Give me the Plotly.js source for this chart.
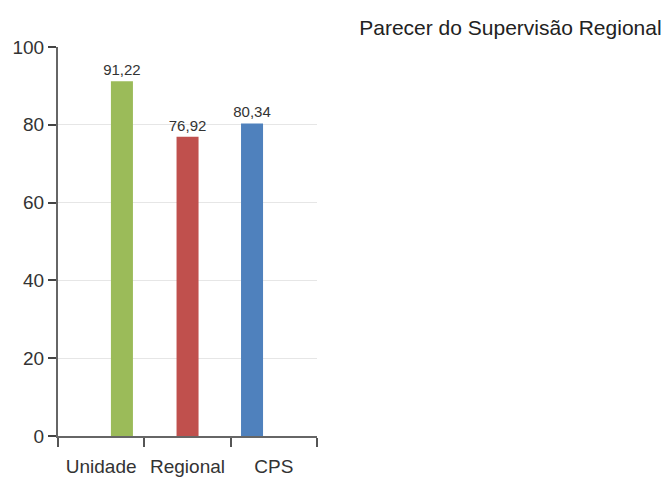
<!DOCTYPE html>
<html><head><meta charset="utf-8">
<script src="https://cdn.plot.ly/plotly-3.0.1.min.js"></script>
<style>html,body{margin:0;padding:0;background:#fff}#chart{width:669px;height:481px}</style>
</head><body><div id="chart"></div>
<script>
var categories = ["Unidade", "Regional", "CPS"];
var seriesNames = ["Unidade", "Regional", "CPS"];
var seriesValues = [91.22, 76.92, 80.34];
var seriesLabels = ["91,22", "76,92", "80,34"];
var seriesColors = ["#9BBB59", "#C0504D", "#4F81BD"];
var yTicks = [0, 20, 40, 60, 80, 100];

// bar placement styling (in category units) to match the picture
var barOffsets = [0.113, -0.127, -0.38];
var barWidth = 0.255;

var FONT = "'Liberation Sans', Arial, sans-serif";

var traces = seriesNames.map(function(name, i){
  return {
    type: "bar",
    name: name,
    x: [categories[i]],
    y: [seriesValues[i]],
    text: [seriesLabels[i]],
    textposition: "outside",
    constraintext: "none",
    textfont: {family: FONT, size: 15, color: "#333"},
    cliponaxis: false,
    offset: barOffsets[i],
    width: barWidth,
    marker: {color: seriesColors[i], line: {width: 0}},
    hoverinfo: "none"
  };
});

var layout = {
  width: 669, height: 481,
  margin: {l: 58, r: 352, t: 47, b: 45},
  paper_bgcolor: "#fff", plot_bgcolor: "#fff",
  barmode: "overlay",
  showlegend: false,
  title: {text: "Parecer do Supervisão Regional", x: 0.537, xanchor: "left", y: 0.943, yanchor: "middle",
          font: {family: FONT, size: 21, color: "#222"}},
  xaxis: {type: "category", categoryorder: "array", categoryarray: categories,
          tickson: "boundaries", ticks: "outside", ticklen: 9, tickwidth: 2, tickcolor: "#555",
          showline: true, linecolor: "#666", linewidth: 2, showgrid: false, zeroline: false,
          tickangle: 0, ticklabelstandoff: 12,
          tickfont: {family: FONT, size: 19, color: "#333"}},
  yaxis: {range: [0, 100], tickvals: yTicks, ticks: "outside", ticklen: 8, tickwidth: 2, tickcolor: "#444",
          showline: true, linecolor: "#666", linewidth: 2, gridcolor: "#e6e6e6", zeroline: false,
          tickfont: {family: FONT, size: 19, color: "#333"}}
};
Plotly.newPlot("chart", traces, layout, {staticPlot: true});
</script></body></html>
